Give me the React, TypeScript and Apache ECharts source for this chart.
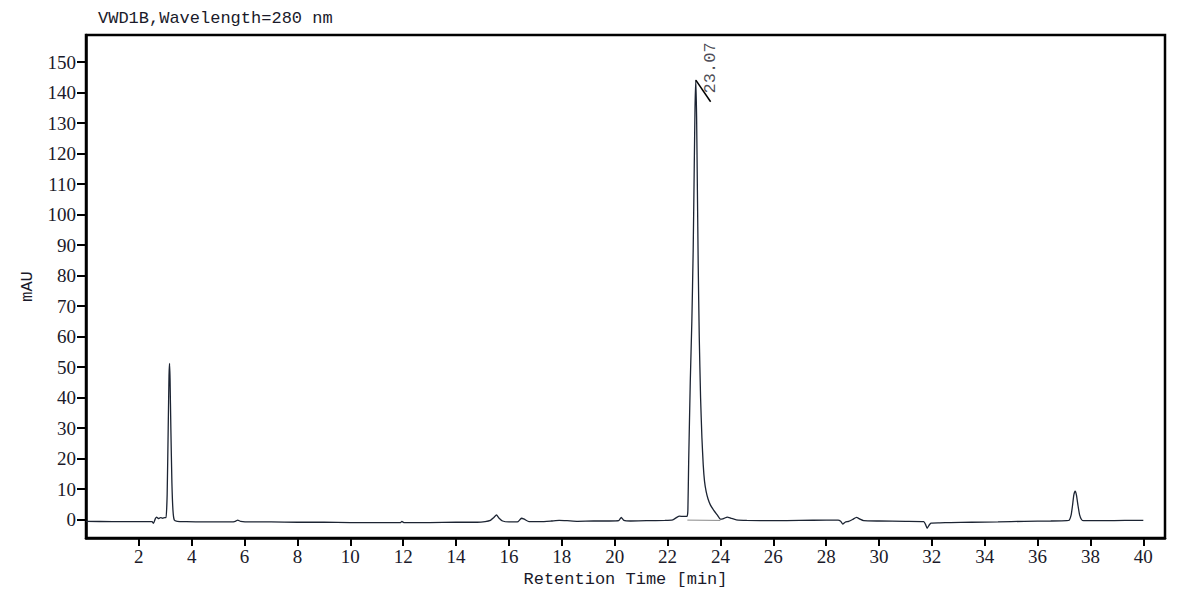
import React, { useEffect, useRef } from "react";
import * as echarts from "echarts";

// Tick values
const xTicks = [2, 4, 6, 8, 10, 12, 14, 16, 18, 20, 22, 24, 26, 28, 30, 32, 34, 36, 38, 40];
const yTicks = [0, 10, 20, 30, 40, 50, 60, 70, 80, 90, 100, 110, 120, 130, 140, 150];

// Trace segments [time (min), signal (mAU)]
const segStart = [
  [0, -0.6], [1.0, -0.7], [2.0, -0.7], [2.5, -0.7], [2.55, -1.3], [2.62, 0.2], [2.67, 0.8],
  [2.74, 0.3], [2.82, 0.6], [2.9, 0.4], [2.98, 0.6], [3.03, 0.6],
];
const segPeak1 = [
  [3.07, 8], [3.11, 30], [3.14, 47], [3.16, 51.2], [3.18, 46], [3.21, 30], [3.25, 12],
  [3.29, 3], [3.34, -0.2], [3.45, -0.6], [3.8, -0.7],
];
const segMiddle = [
  [4.5, -0.8], [5.5, -0.8], [5.65, -0.6], [5.74, -0.2], [5.85, -0.6], [6.2, -0.8], [7.0, -0.8],
  [8.0, -0.9], [9.0, -0.9], [10.0, -1.0], [11.0, -1.0], [11.9, -1.0], [11.95, -0.6], [12.02, -1.0],
  [13.0, -1.0], [14.0, -0.9], [14.8, -0.9], [15.1, -0.7], [15.3, -0.3], [15.42, 0.6], [15.53, 1.5],
  [15.62, 0.5], [15.76, -0.5], [16.0, -0.8], [16.35, -0.7], [16.47, 0.4], [16.58, 0.1], [16.76, -0.7],
  [17.2, -0.7], [17.6, -0.5], [17.9, -0.3], [18.2, -0.4], [18.6, -0.6], [19.2, -0.5], [19.8, -0.5],
  [20.15, -0.4], [20.25, 0.7], [20.35, -0.3], [20.6, -0.5], [21.2, -0.4], [21.9, -0.3], [22.2, -0.1],
  [22.35, 0.7], [22.45, 1.1], [22.6, 1.0], [22.74, 1.0],
];
const segMainPeak = [
  [22.77, 3], [22.8, 19], [22.86, 45], [22.92, 65], [22.97, 88], [23.01, 115], [23.04, 135],
  [23.07, 144.1], [23.1, 132], [23.13, 108], [23.16, 84], [23.2, 60], [23.25, 40], [23.3, 27],
  [23.35, 18], [23.4, 12.5], [23.46, 9.2], [23.53, 6.8], [23.62, 4.8], [23.75, 3.0], [23.88, 1.5],
  [24.0, 0.1], [24.12, 0.3], [24.26, 0.8], [24.4, 0.4], [24.6, -0.1], [25.0, -0.3],
];
const segLate = [
  [26.0, -0.4], [27.0, -0.3], [28.0, -0.2], [28.45, -0.2], [28.55, -0.6], [28.63, -1.5],
  [28.72, -0.9], [28.85, -0.6], [29.0, 0.0], [29.15, 0.7], [29.28, 0.1], [29.42, -0.4], [30.0, -0.5],
  [31.0, -0.6], [31.69, -0.7], [31.76, -1.6], [31.82, -2.9], [31.9, -1.8], [31.97, -1.2], [32.3, -1.1],
  [32.7, -1.0], [33.5, -0.9], [34.5, -0.8], [35.5, -0.6], [36.5, -0.5], [37.1, -0.4],
];
const segPeak3 = [
  [37.2, -0.2], [37.27, 1.5], [37.32, 4.5], [37.37, 8], [37.42, 9.3], [37.47, 8], [37.53, 4.5],
  [37.59, 1.5], [37.66, 0], [37.74, -0.4], [38.5, -0.4], [39.3, -0.3], [40.0, -0.3],
];

// Integration baseline under main peak
const integrationBaseline = [[22.75, -0.2], [24.0, -0.3]];
// Peak annotation
const peakLabel = "23.07";
const peakTop = [23.07, 144.1];
const peakTickEnd = [23.63, 137];
const peakLabelPos = [23.63, 148.1];

const trace = [...segStart, ...segPeak1, ...segMiddle, ...segMainPeak, ...segLate, ...segPeak3];

export default function App() {
  const ref = useRef<HTMLDivElement>(null);
  useEffect(() => {
    if (!ref.current) return;
    const chart = echarts.init(ref.current, null, { renderer: "svg" });
    const serif = "Liberation Serif";
    const mono = "Liberation Mono";
    chart.setOption({
      animation: false,
      backgroundColor: "#ffffff",
      title: {
        text: "VWD1B,Wavelength=280 nm",
        left: 93,
        top: 5,
        textStyle: { fontFamily: mono, fontSize: 17, fontWeight: "normal", color: "#1a1a2a" },
      },
      grid: {
        left: 86,
        right: 14,
        top: 35,
        bottom: 62,
        show: true,
        borderColor: "#000",
        borderWidth: 2.5,
        backgroundColor: "transparent",
      },
      xAxis: {
        type: "value",
        min: 0,
        max: 40.82,
        name: "Retention Time [min]",
        nameLocation: "middle",
        nameGap: 32,
        nameTextStyle: { fontFamily: mono, fontSize: 17, color: "#1a1a2a" },
        axisLine: { show: true, onZero: false, lineStyle: { color: "#000", width: 2.5 } },
        axisTick: { show: true, customValues: xTicks, length: 8, lineStyle: { color: "#000", width: 2 } },
        axisLabel: { customValues: xTicks, fontFamily: serif, fontSize: 19, color: "#1a1a2a", margin: 9 },
        splitLine: { show: false },
      },
      yAxis: {
        type: "value",
        min: -6.07,
        max: 158.9,
        name: "mAU",
        nameLocation: "middle",
        nameGap: 50,
        nameTextStyle: { fontFamily: mono, fontSize: 17, color: "#1a1a2a" },
        axisLine: { show: true, onZero: false, lineStyle: { color: "#000", width: 2.5 } },
        axisTick: { show: true, customValues: yTicks, length: 9, lineStyle: { color: "#000", width: 2 } },
        axisLabel: { customValues: yTicks, fontFamily: serif, fontSize: 19, color: "#1a1a2a", margin: 10 },
        splitLine: { show: false },
      },
      series: [
        {
          type: "line",
          data: integrationBaseline,
          showSymbol: false,
          silent: true,
          z: 1,
          lineStyle: { color: "#8a8a8a", width: 1 },
        },
        {
          type: "line",
          data: trace,
          showSymbol: false,
          smooth: 0.15,
          silent: true,
          z: 2,
          lineStyle: { color: "#1c2433", width: 1.3 },
        },
        {
          type: "line",
          data: [peakTop, peakTickEnd],
          showSymbol: false,
          silent: true,
          z: 3,
          lineStyle: { color: "#000", width: 1.5 },
        },
        {
          type: "scatter",
          data: [peakLabelPos],
          symbolSize: 0,
          silent: true,
          label: {
            show: true,
            formatter: peakLabel,
            position: "inside",
            rotate: 90,
            fontFamily: mono,
            fontSize: 17,
            color: "#1a1a2a",
          },
        },
      ],
    });
    return () => chart.dispose();
  }, []);
  return (
    <div
      ref={ref}
      style={{ position: "absolute", left: 0, top: 0, width: 1179, height: 600, background: "#fff" }}
    />
  );
}
